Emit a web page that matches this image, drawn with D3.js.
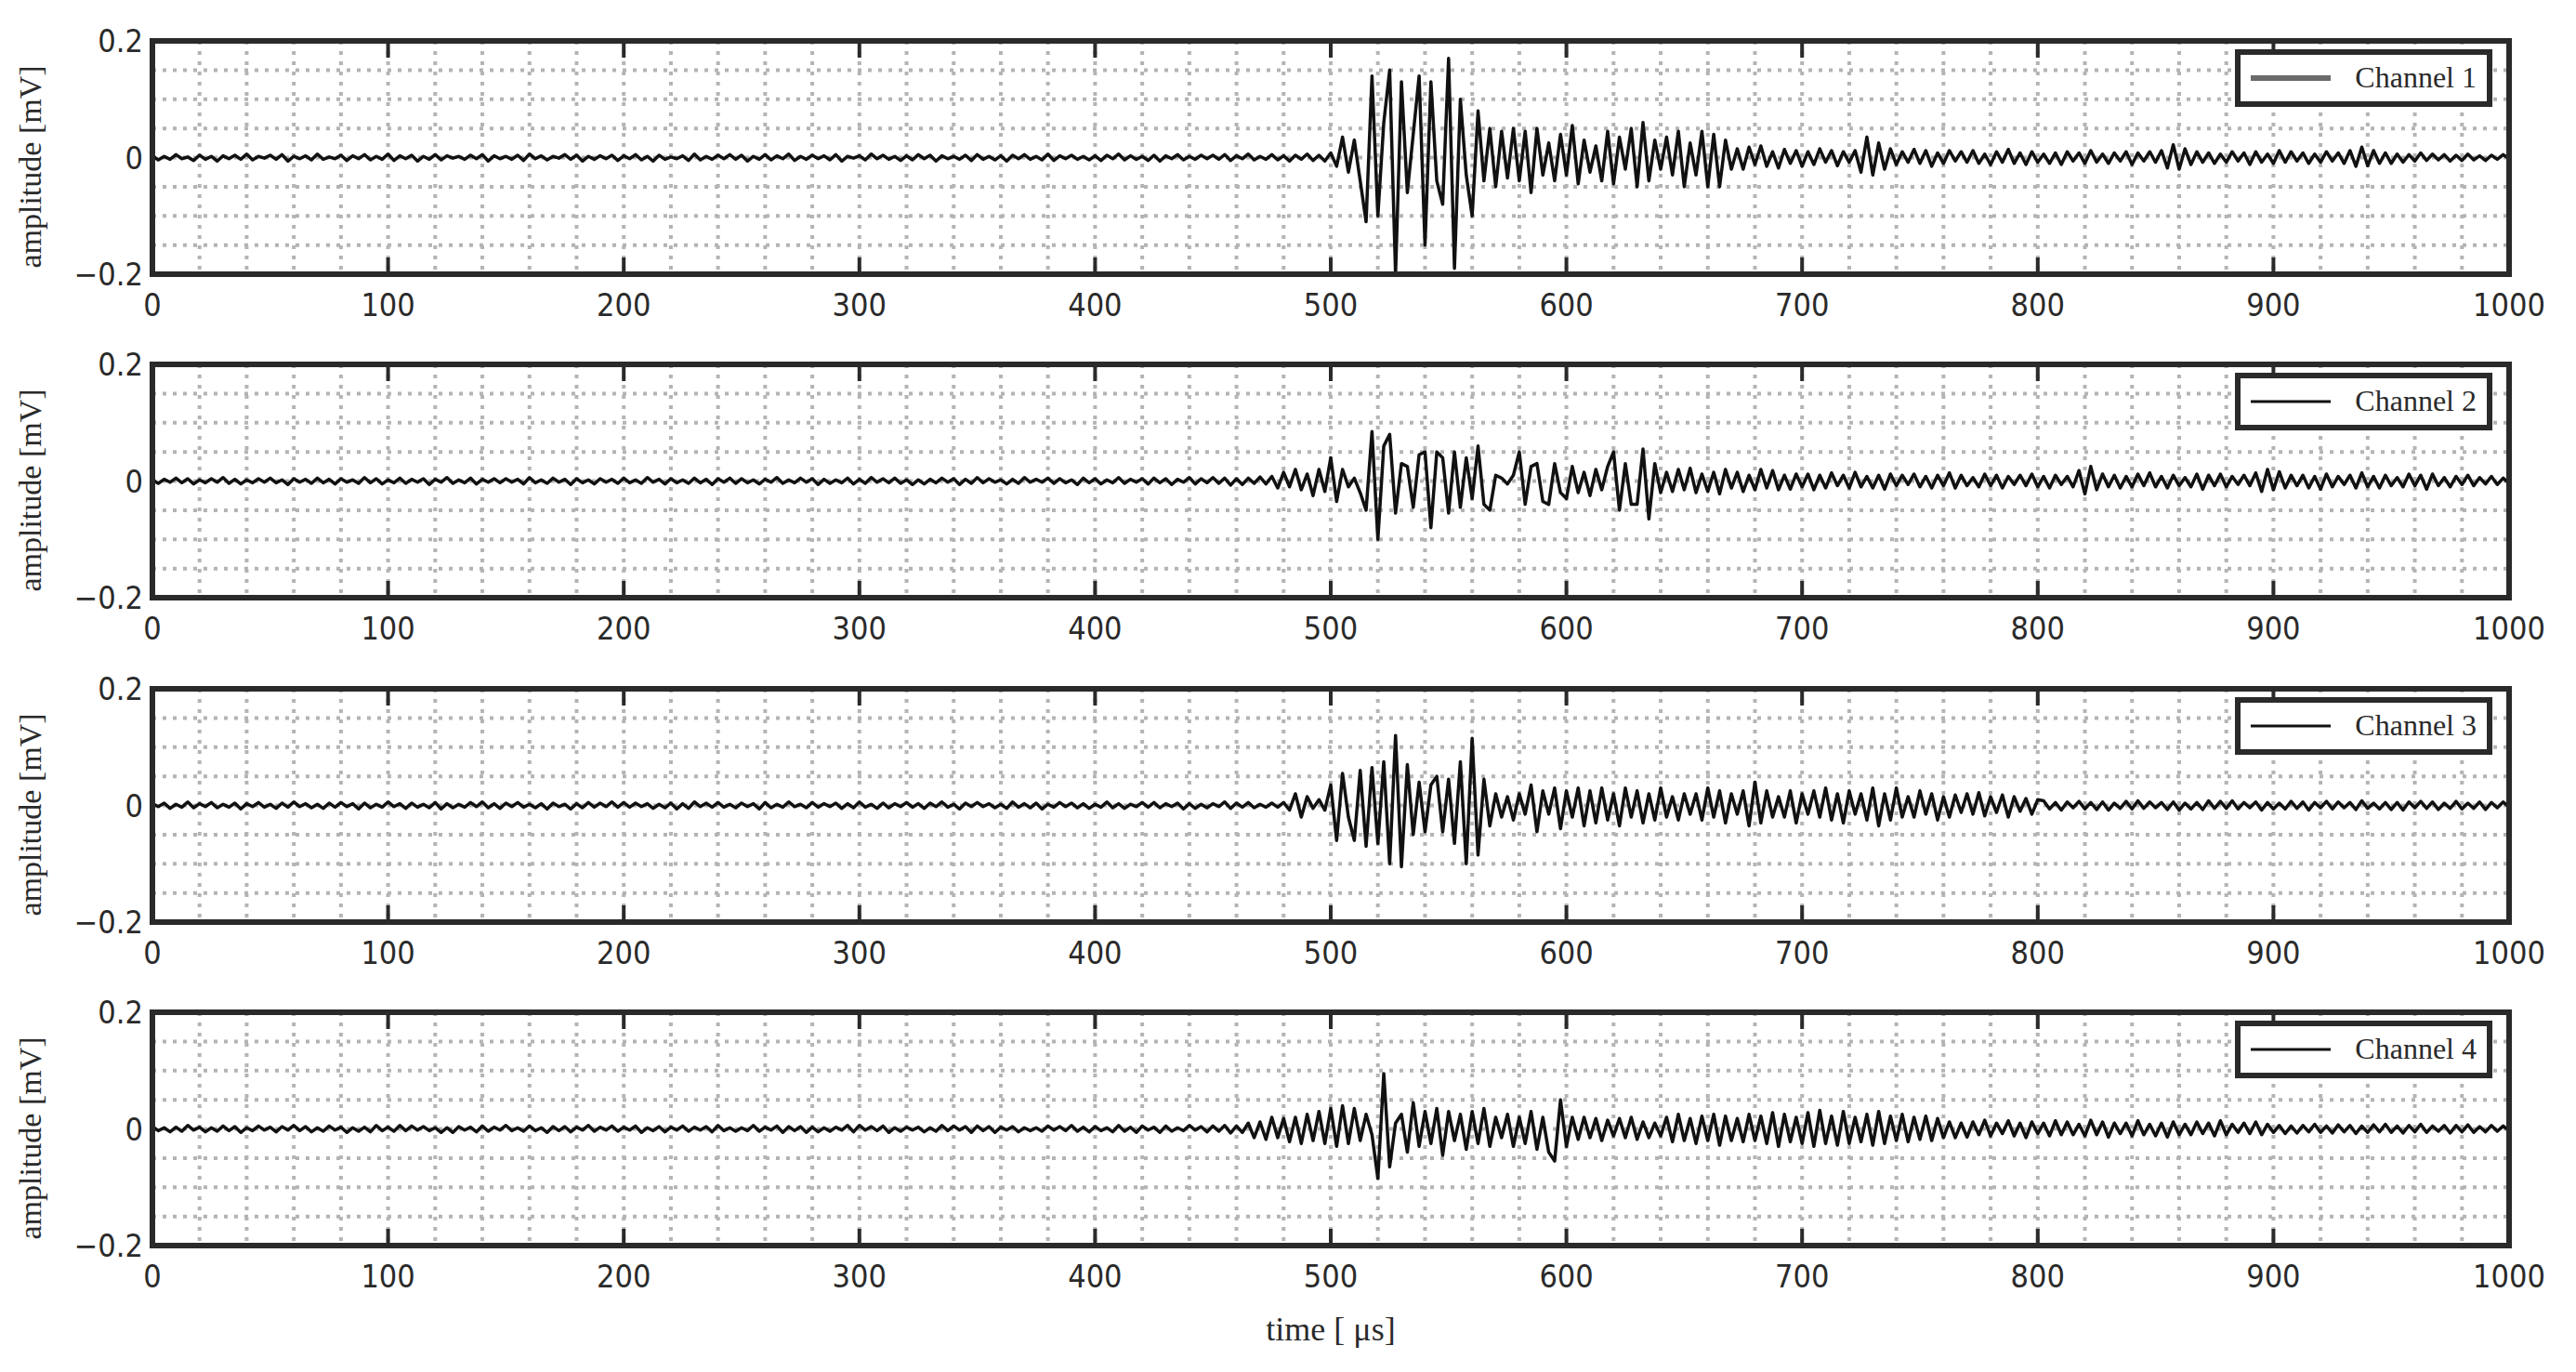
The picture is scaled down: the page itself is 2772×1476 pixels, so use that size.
<!DOCTYPE html>
<html>
<head>
<meta charset="utf-8">
<script src="https://cdn.jsdelivr.net/npm/d3@7"></script>
<style>
  body { margin: 0; background: #fff; }
  text { font-family: "DejaVu Sans Condensed", "DejaVu Sans", sans-serif; fill: #2a2a2a; }
  .serif { font-family: "Liberation Serif", "DejaVu Serif", serif; }
</style>
</head>
<body>
<div id="app"></div>
<script>
// amplitudes in 1e-3 mV, one sample every 2.5 us from 0 to 1000 us
const channelNames = ["Channel 1", "Channel 2", "Channel 3", "Channel 4"];
const xTicks = [0, 100, 200, 300, 400, 500, 600, 700, 800, 900, 1000];
const yTicks = [-0.2, 0, 0.2];

const ch1 = [
  3,-4,2,-3,5,-2,1,-5,4,-3,2,-6,3,-2,4,-3,6,-4,2,-1,
  4,-3,5,-6,2,-2,3,-4,6,-3,1,-2,4,-5,3,-2,5,-4,2,-3,
  6,-5,3,-2,4,-6,2,-3,5,-4,3,-1,2,-3,4,-2,5,-6,3,-2,
  2,-3,4,-5,6,-2,3,-4,2,-1,5,-3,4,-6,2,-3,3,-2,4,-5,
  3,-2,5,-4,2,-6,4,-3,1,-2,3,-5,6,-4,2,-3,4,-2,5,-3,
  4,-6,2,-3,5,-4,3,-2,6,-5,2,-3,4,-2,3,-4,5,-6,2,-1,
  3,-4,6,-2,4,-3,2,-5,3,-4,5,-2,4,-6,3,-2,2,-3,4,-5,
  5,-3,2,-4,3,-6,4,-2,5,-3,2,-4,6,-5,3,-2,4,-3,2,-4,
  3,-5,4,-2,6,-4,3,-3,2,-5,4,-6,3,-2,5,-4,2,-3,4,-2,
  4,-3,5,-5,3,-2,6,-4,2,-3,5,-4,3,-6,4,-3,6,-5,4,-6,
  8,-15,35,-25,30,-40,-110,140,-100,60,
  150,-200,130,-60,40,140,-150,130,-40,-80,
  170,-190,100,-30,-100,80,-40,50,-50,45,
  -35,50,-40,45,-60,50,-30,25,-40,40,
  -30,55,-45,30,-25,20,-40,45,-45,35,
  -20,50,-50,60,-40,30,-20,35,-30,45,
  -50,25,-30,45,-50,40,-50,30,-20,
  15,-20,18,-12,20,-15,10,-18,14,-10,12,-15,
  10,-12,15,-8,12,-14,10,-8,12,
  -25,35,-30,25,-20,15,
  -12,10,-8,14,-10,12,-15,8,-10,12,-6,10,-8,12,-10,6,-12,10,-8,14,-10,8,-12,10,-8,
  6,-10,8,-12,10,-6,8,-10,12,-8,6,-10,8,-6,10,-12,8,-6,10,-8,
  12,-18,22,-20,15,-12,10,-8,
  8,-10,6,-8,10,-6,8,-12,10,-8,6,-10,12,-8,10,-6,8,-10,6,-8,10,-6,8,-10,
  12,-15,18,-14,12,-10,8,-10,
  6,-8,5,-6,8,-5,6,-4,5,-6,4,-5,6,-4,3,-5,4,-3,5,-2
];

const ch2 = [
  2,-4,3,-2,5,-3,4,-5,2,-3,
  4,-2,6,-4,3,-5,2,-3,4,-2,
  5,-3,2,-6,4,-2,3,-4,5,-3,
  3,-5,4,-2,2,-4,6,-3,4,-5,
  2,-3,5,-4,3,-2,4,-6,3,-2,
  6,-4,2,-3,5,-5,3,-2,4,-3,
  4,-2,3,-5,6,-3,2,-4,5,-2,
  3,-6,4,-3,2,-5,4,-2,3,-4,
  5,-3,2,-4,6,-2,3,-5,4,-3,
  2,-4,5,-3,3,-6,4,-2,5,-4,
  4,-3,2,-5,3,-2,6,-4,2,-3,
  5,-2,4,-6,3,-4,2,-3,5,-5,
  3,-4,6,-2,4,-3,5,-4,2,-6,
  2,-5,3,-3,5,-2,4,-6,3,-4,
  6,-3,4,-2,2,-5,3,-4,6,-2,
  3,-2,5,-4,4,-3,2,-6,5,-3,
  4,-5,2,-3,6,-4,3,-2,4,-5,
  5,-3,4,-6,3,-2,6,-5,4,-3,
  6,-4,5,-7,4,-6,5,-4,7,-5,
  8,-12,15,-10,20,-15,12,-25,20,-18,
  40,-35,20,-10,5,-20,-50,85,-100,60,
  80,-55,30,25,-45,45,50,-80,50,40,
  -55,50,-45,40,-30,60,-40,-50,10,5,
  -5,10,50,-40,25,30,-35,-40,30,-20,
  -30,25,-20,15,-25,20,-15,25,50,-50,
  30,-40,-40,55,-65,30,-20,15,
  -18,20,-15,22,-20,12,-18,15,-22,20,-12,15,-18,10,-15,20,-12,18,-15,10,-14,12,-10,
  12,-15,10,-12,14,-8,10,-12,15,-10,8,-12,10,-14,12,-8,10,-6,12,-10,
  8,-12,10,-8,14,-12,10,-8,6,-10,12,-8,10,-12,8,-6,10,-8,12,-10,8,-12,10,-6,8,-10,
  18,-22,25,-15,12,-10,
  10,-12,8,-10,12,-8,14,-10,8,-12,10,-8,6,-10,12,-14,10,-8,12,-10,8,-6,10,-8,
  14,-18,20,-15,16,-12,10,-8,
  10,-12,8,-14,12,-10,8,-6,10,-12,14,-10,8,-12,10,-8,6,-10,12,-8,
  10,-14,12,-8,6,-10,8,-6,10,-8,6,-5,8,-6,5,-4
];

const ch3 = [
  3,-2,4,-5,2,-3,6,-4,3,-2,
  5,-4,2,-3,4,-6,3,-2,5,-3,
  2,-5,4,-3,6,-2,3,-4,2,-5,
  4,-3,5,-2,3,-6,4,-4,2,-3,
  6,-2,3,-5,4,-3,2,-4,5,-6,
  3,-4,2,-3,5,-2,6,-4,3,-5,
  4,-2,5,-3,2,-4,3,-6,4,-2,
  2,-6,3,-4,5,-3,4,-2,6,-3,
  5,-3,4,-2,3,-5,2,-4,4,-6,
  3,-5,6,-2,4,-3,5,-3,2,-4,
  4,-2,3,-6,5,-4,2,-3,6,-2,
  2,-4,5,-3,3,-2,4,-5,3,-4,
  6,-3,2,-5,4,-4,3,-2,5,-3,
  3,-5,4,-2,6,-3,2,-6,4,-2,
  5,-2,3,-4,2,-5,6,-3,3,-4,
  4,-6,2,-3,5,-2,4,-4,3,-5,
  2,-3,6,-4,3,-5,2,-2,5,-3,
  5,-4,3,-2,4,-6,3,-5,2,-4,
  3,-2,6,-5,4,-3,5,-4,2,-3,
  4,-3,
  5,-8,20,-20,15,-5,10,-8,
  35,-60,55,-20,-60,60,-70,65,-65,75,
  -100,120,-105,70,-50,40,-45,35,50,-45,
  45,-65,75,-100,115,-85,45,-35,20,-20,
  15,-25,20,-15,35,-45,25,-15,30,-40,
  25,
  -20,30,-35,25,-30,30,-25,20,-35,30,-20,25,-30,20,-25,30,-20,15,-25,20,
  -15,20,-25,30,-20,25,-30,20,-15,25,
  -35,40,-30,25,-20,15,
  -20,25,-30,20,-15,25,-20,30,-25,20,-30,25,-15,20,-25,30,-35,20,-25,30,-20,15,-20,25,
  -15,20,-25,15,-20,18,-12,20,-15,22,-18,15,-12,18,-20,15,-10,12,-15,10,
  8,-6,5,-8,6,-4,7,-6,5,-7,
  6,-8,4,-5,7,-6,8,-5,6,-4,
  5,-7,6,-8,4,-6,5,-7,8,-5,
  7,-5,8,-6,5,-4,6,-8,5,-6,
  4,-6,7,-5,6,-8,5,-4,7,-6,
  6,-4,5,-7,8,-5,4,-6,5,-7,
  5,-8,6,-4,7,-5,6,-7,4,-5,
  7,-6,4,-5,6,-7,5,-4,6,-3
];

const ch4 = [
  4,-3,2,-5,3,-4,6,-2,3,-5,
  2,-4,5,-3,4,-6,2,-3,5,-2,
  3,-5,4,-2,6,-3,4,-5,2,-4,
  5,-2,3,-6,2,-4,3,-5,6,-3,
  3,-4,6,-3,5,-2,4,-3,2,-6,
  2,-6,4,-2,3,-5,5,-4,3,-2,
  6,-3,2,-4,5,-3,2,-6,4,-3,
  4,-5,3,-2,6,-4,3,-2,5,-4,
  3,-2,5,-6,2,-3,4,-5,3,-2,
  5,-4,3,-2,4,-5,6,-3,2,-4,
  2,-3,6,-4,3,-2,5,-6,4,-3,
  4,-6,3,-5,2,-4,3,-2,6,-5,
  6,-2,4,-3,5,-6,2,-4,3,-2,
  3,-5,2,-4,6,-3,5,-2,4,-6,
  5,-3,4,-6,3,-2,4,-5,2,-3,
  2,-4,5,-2,4,-3,6,-4,3,-5,
  4,-3,2,-5,6,-4,3,-6,5,-2,
  3,-6,5,-4,2,-3,6,-2,4,-5,
  5,-4,6,-7,5,-6,
  10,-15,12,-18,20,-15,18,-22,20,-25,25,-20,30,-25,
  35,-30,40,-25,35,-20,25,-10,-85,95,
  -65,10,25,-40,45,-30,30,-25,35,-45,
  30,-20,25,-35,30,-25,35,-30,20,-15,
  25,-30,20,-25,30,-35,20,-40,-55,50,
  -30,20,
  -18,20,-15,18,-20,15,-12,18,-15,20,-18,12,-15,10,-12,
  20,-22,25,-20,18,-25,22,-20,25,-28,22,-20,18,-22,25,-20,22,-25,28,-30,25,-22,20,-25,
  28,-30,32,-25,22,-28,30,-25,20,-22,25,-28,30,-25,22,-20,25,-22,20,-18,22,-20,18,-15,
  12,-15,10,-14,12,-10,15,-12,10,-8,
  14,-12,10,-15,12,-8,10,-12,14,-10,
  12,-10,8,-12,15,-10,12,-14,10,-8,
  10,-12,14,-10,8,-12,10,-14,12,-10,
  8,-10,12,-8,10,-12,14,-10,8,-6,
  10,-8,12,-10,8,-6,
  6,-8,5,-7,6,-5,8,-6,5,-7,
  7,-5,6,-8,5,-6,7,-5,8,-6,
  5,-7,6,-5,8,-6,5,-4,6,-7,
  6,-5,7,-6,4,-5,6,-4,5,-3
];

const channels = [ch1, ch2, ch3, ch4];

const W = 2772, H = 1476;
const left = 164, right = 2700;
const panelTops = [44, 392, 741, 1089];
const panelH = 251;

const svg = d3.select("#app").append("svg")
  .attr("width", W).attr("height", H);

const x = d3.scaleLinear().domain([0, 1000]).range([left, right]);

channels.forEach((data, k) => {
  const top = panelTops[k];
  const y = d3.scaleLinear().domain([-0.2, 0.2]).range([top + panelH, top]);
  const g = svg.append("g");

  // dotted grid
  g.append("g").selectAll("line")
    .data(d3.range(20, 1000, 20))
    .join("line")
    .attr("x1", d => x(d)).attr("x2", d => x(d))
    .attr("y1", top).attr("y2", top + panelH)
    .attr("stroke", "#b4b4b4").attr("stroke-width", 4)
    .attr("stroke-dasharray", "4,7");
  g.append("g").selectAll("line")
    .data(d3.range(-0.15, 0.2, 0.05))
    .join("line")
    .attr("x1", left).attr("x2", right)
    .attr("y1", d => y(d)).attr("y2", d => y(d))
    .attr("stroke", "#b4b4b4").attr("stroke-width", 4)
    .attr("stroke-dasharray", "4,7");

  // major ticks pointing inward
  const tickLen = 18;
  g.append("g").selectAll("line")
    .data(xTicks.slice(1, -1))
    .join("line")
    .attr("x1", d => x(d)).attr("x2", d => x(d))
    .attr("y1", top).attr("y2", top + tickLen)
    .attr("stroke", "#2a2a2a").attr("stroke-width", 4);
  g.append("g").selectAll("line")
    .data(xTicks.slice(1, -1))
    .join("line")
    .attr("x1", d => x(d)).attr("x2", d => x(d))
    .attr("y1", top + panelH).attr("y2", top + panelH - tickLen)
    .attr("stroke", "#2a2a2a").attr("stroke-width", 4);

  // signal
  const line = d3.line()
    .x((d, i) => x(i * 2.5))
    .y(d => y(d / 1000));
  g.append("path")
    .datum(data)
    .attr("d", line)
    .attr("fill", "none")
    .attr("stroke", "#111")
    .attr("stroke-width", 3.5)
    .attr("stroke-linejoin", "round");

  // frame
  g.append("rect")
    .attr("x", left).attr("y", top)
    .attr("width", right - left).attr("height", panelH)
    .attr("fill", "none").attr("stroke", "#2a2a2a").attr("stroke-width", 6);

  // tick labels
  g.append("g").selectAll("text")
    .data(xTicks)
    .join("text")
    .attr("x", d => x(d)).attr("y", top + panelH + 45)
    .attr("text-anchor", "middle")
    .attr("font-size", 34)
    .text(d => d);
  g.append("g").selectAll("text")
    .data(yTicks)
    .join("text")
    .attr("x", left - 10).attr("y", d => y(d) + 12)
    .attr("text-anchor", "end")
    .attr("font-size", 34)
    .text(d => d === 0 ? "0" : d3.format(".1f")(d).replace("-", "\u2212"));

  g.append("text")
    .attr("class", "serif")
    .attr("transform", `translate(44,${top + panelH / 2 + 10}) rotate(-90)`)
    .attr("text-anchor", "middle")
    .attr("font-size", 34)
    .text("amplitude [mV]");

  // legend
  const lx = 2408, ly = top + 12, lw = 271, lh = 56;
  g.append("rect")
    .attr("x", lx).attr("y", ly).attr("width", lw).attr("height", lh)
    .attr("fill", "#fff").attr("stroke", "#2a2a2a").attr("stroke-width", 6);
  g.append("line")
    .attr("x1", lx + 14).attr("x2", lx + 100)
    .attr("y1", ly + lh / 2).attr("y2", ly + lh / 2)
    .attr("stroke", k === 0 ? "#6a6a6a" : "#111")
    .attr("stroke-width", k === 0 ? 6 : 3);
  g.append("text")
    .attr("class", "serif")
    .attr("x", lx + lw - 14).attr("y", ly + lh / 2 + 10)
    .attr("text-anchor", "end")
    .attr("font-size", 32)
    .text(channelNames[k]);
});

svg.append("text")
  .attr("class", "serif")
  .attr("x", x(500)).attr("y", 1442)
  .attr("text-anchor", "middle")
  .attr("font-size", 36)
  .text("time [ \u03bcs]");
</script>
</body>
</html>
